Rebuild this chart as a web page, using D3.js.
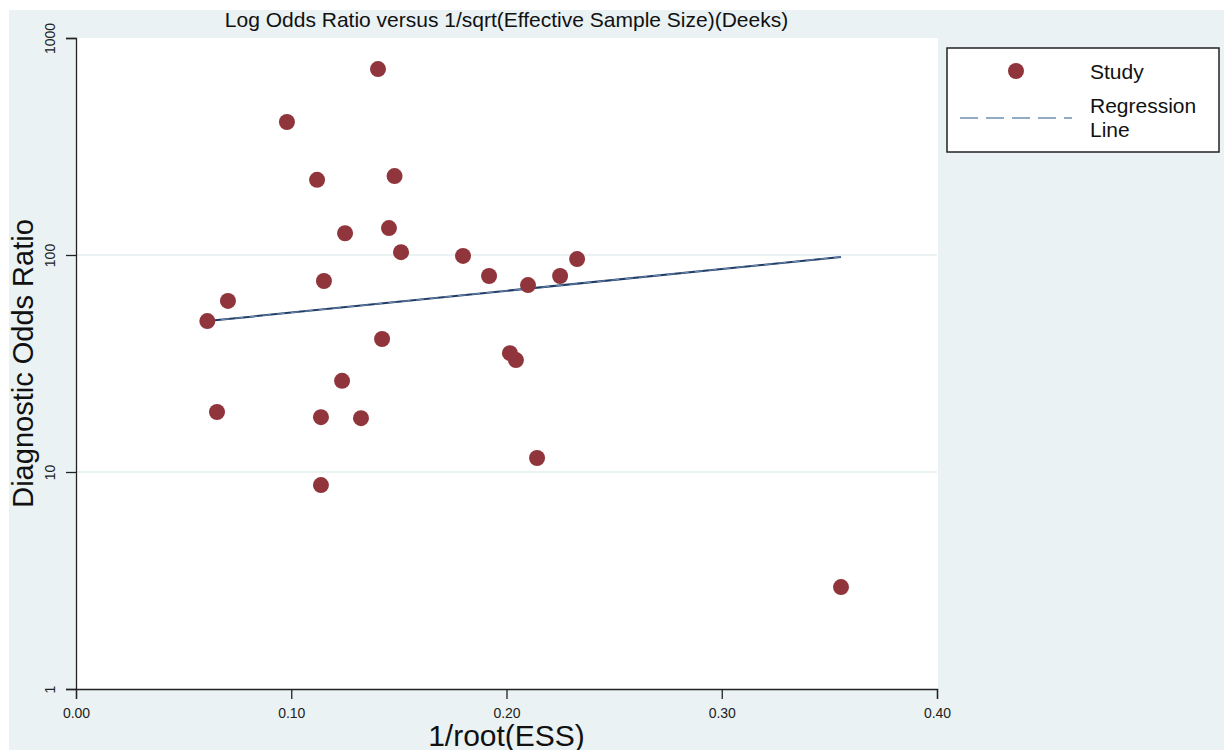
<!DOCTYPE html>
<html>
<head>
<meta charset="utf-8">
<script src="https://cdn.jsdelivr.net/npm/d3@7"></script>
<style>
  body { margin: 0; background: #fff; }
  text { font-family: "Liberation Sans", Arial, sans-serif; }
</style>
</head>
<body>
<svg id="chart" width="1224" height="750"></svg>
<script>
// data
const essInv = [0.061, 0.0706, 0.0655, 0.098, 0.112, 0.1152, 0.1138, 0.1138, 0.125, 0.1236,
                0.1403, 0.148, 0.1454, 0.151, 0.1422, 0.1324, 0.1798, 0.1919, 0.21, 0.2249,
                0.2328, 0.2016, 0.2044, 0.2142, 0.3554];
const dor = [49.6, 61.4, 18.9, 410, 222, 75.9, 17.9, 8.7, 126, 26.3,
             719, 231, 133, 103, 41, 17.7, 99, 80, 72.7, 80,
             95.8, 35.3, 32.8, 11.6, 2.95];
const regX = [0.061, 0.3554];
const regY = [49.6, 98];
const xTicks = [0, 0.1, 0.2, 0.3, 0.4];
const yTicks = [1, 10, 100, 1000];
const legendNames = ["Study", "Regression Line"];

const svg = d3.select("#chart");
const width = 1224, height = 750;

const plotLeft = 76, plotRight = 937, plotTop = 38, plotBottom = 689;
const bg = "#eaf2f3";
const dotColor = "#90353b";

// outer panel
svg.append("rect")
    .attr("x", 9).attr("y", 10)
    .attr("width", width - 9).attr("height", height - 10)
    .attr("fill", bg);

svg.append("rect")
    .attr("x", plotLeft).attr("y", plotTop)
    .attr("width", plotRight - plotLeft + 1).attr("height", plotBottom - plotTop)
    .attr("fill", "#fff");

const x = d3.scaleLinear().domain([0, 0.4]).range([plotLeft, plotRight]);
const y = d3.scaleLog().domain([1, 1000]).range([plotBottom, plotTop]);

// gridlines
svg.append("g")
    .selectAll("line")
    .data(yTicks.filter(d => d > 1 && d < 1000))
    .join("line")
    .attr("x1", plotLeft).attr("x2", plotRight)
    .attr("y1", d => y(d)).attr("y2", d => y(d))
    .attr("stroke", bg)
    .attr("stroke-width", 2);

// x axis
svg.append("g")
    .attr("transform", `translate(0,${plotBottom})`)
    .call(d3.axisBottom(x).tickValues(xTicks).tickFormat(d3.format(".2f")).tickSize(10).tickSizeOuter(10).tickPadding(9))
    .call(g => g.select(".domain").attr("stroke", "#222").attr("stroke-width", 1.3))
    .call(g => g.selectAll(".tick line").attr("stroke", "#222").attr("stroke-width", 1.3))
    .call(g => g.selectAll(".tick text")
        .attr("fill", "#222")
        .style("font-size", "14px")
        .style("font-family", "Liberation Sans, Arial, sans-serif"));

// y axis
svg.append("g")
    .attr("transform", `translate(${plotLeft},0)`)
    .call(d3.axisLeft(y).tickValues(yTicks).tickFormat(d3.format("d")).tickSize(10).tickSizeOuter(10).tickPadding(0))
    .call(g => g.select(".domain").attr("stroke", "#222").attr("stroke-width", 1.3))
    .call(g => g.selectAll(".tick line").attr("stroke", "#222").attr("stroke-width", 1.3))
    .call(g => g.selectAll(".tick text")
        .attr("fill", "#222")
        .attr("x", 0).attr("y", 0).attr("dy", null)
        .attr("text-anchor", "middle")
        .attr("transform", "translate(-21,0) rotate(-90)")
        .style("font-size", "14px")
        .style("font-family", "Liberation Sans, Arial, sans-serif"));

// regression line: solid navy under a dashed light blue
const line = d3.line().x(d => x(d[0])).y(d => y(d[1]));
const regData = regX.map((v, i) => [v, regY[i]]);
svg.append("path")
    .attr("d", line(regData))
    .attr("fill", "none")
    .attr("stroke", "#1f3b66")
    .attr("stroke-width", 2);
svg.append("path")
    .attr("d", line(regData))
    .attr("fill", "none")
    .attr("stroke", "#6f8fb3")
    .attr("stroke-width", 1)
    .attr("stroke-dasharray", "8,6");

// study points
svg.append("g")
    .selectAll("circle")
    .data(essInv.map((v, i) => [v, dor[i]]))
    .join("circle")
    .attr("cx", d => x(d[0]))
    .attr("cy", d => y(d[1]))
    .attr("r", 8)
    .attr("fill", dotColor);

// title
svg.append("text")
    .attr("x", (plotLeft + plotRight) / 2)
    .attr("y", 27)
    .attr("text-anchor", "middle")
    .style("font-size", "21px")
    .attr("fill", "#111")
    .text("Log Odds Ratio versus 1/sqrt(Effective Sample Size)(Deeks)");

// axis titles
svg.append("text")
    .attr("x", (plotLeft + plotRight) / 2)
    .attr("y", 746)
    .attr("text-anchor", "middle")
    .style("font-size", "30px")
    .attr("fill", "#111")
    .text("1/root(ESS)");

svg.append("text")
    .attr("transform", `translate(33,${(plotTop + plotBottom) / 2}) rotate(-90)`)
    .attr("text-anchor", "middle")
    .style("font-size", "29px")
    .attr("fill", "#111")
    .text("Diagnostic Odds Ratio");

// legend
const legend = svg.append("g").attr("transform", "translate(947,48)");
legend.append("rect")
    .attr("width", 272).attr("height", 104)
    .attr("fill", "#fff")
    .attr("stroke", "#222")
    .attr("stroke-width", 1.5);
legend.append("circle")
    .attr("cx", 69).attr("cy", 23).attr("r", 8)
    .attr("fill", dotColor);
legend.append("text")
    .attr("x", 143).attr("y", 31)
    .style("font-size", "21px")
    .attr("fill", "#111")
    .text(legendNames[0]);
legend.append("line")
    .attr("x1", 13).attr("x2", 125)
    .attr("y1", 70).attr("y2", 70)
    .attr("stroke", "#6f8fb3")
    .attr("stroke-width", 1.6)
    .attr("stroke-dasharray", "18,8");
legend.append("text")
    .attr("x", 143).attr("y", 65)
    .style("font-size", "21px")
    .attr("fill", "#111")
    .text(legendNames[1].split(" ")[0]);
legend.append("text")
    .attr("x", 143).attr("y", 89)
    .style("font-size", "21px")
    .attr("fill", "#111")
    .text(legendNames[1].split(" ")[1]);
</script>
</body>
</html>
